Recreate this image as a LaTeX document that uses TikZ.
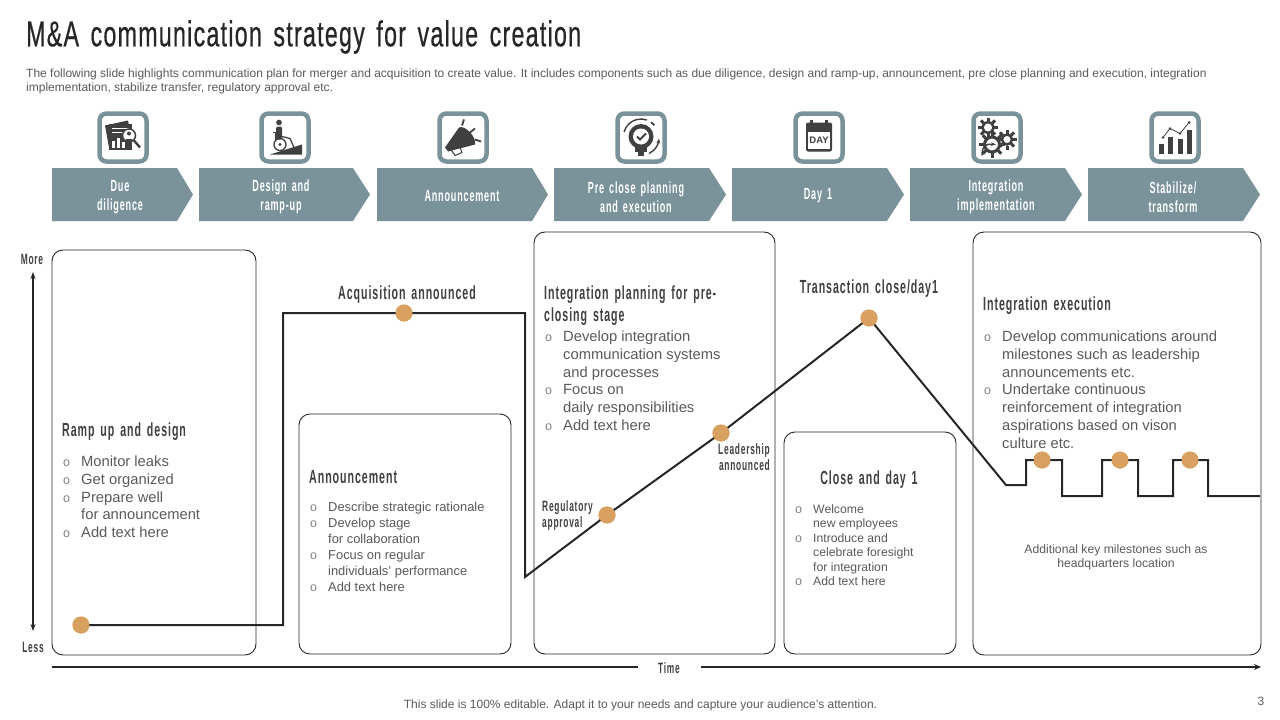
\documentclass[tikz,border=0pt]{standalone}
\usepackage{fontspec}
\setmainfont{Liberation Sans}
\newfontfamily\titlefont[FakeStretch=0.645,LetterSpace=3.5,WordSpace=1.5,FakeBold=0.5]{Liberation Sans}
\newfontfamily\headfont[FakeStretch=0.56,LetterSpace=5,WordSpace=1.5]{Liberation Sans}
\usetikzlibrary{arrows.meta, positioning}
\definecolor{steel}{HTML}{7A9299}
\definecolor{dotfill}{HTML}{D9A15F}
\definecolor{inkdark}{HTML}{262626}
\definecolor{bodygray}{HTML}{595959}
\definecolor{headgray}{HTML}{404040}
\newcommand{\bl}{\makebox[18pt][l]{\color{gray}\fontsize{12.5}{10}\selectfont o}}
\newcommand{\nb}{\hspace*{18pt}}
\tikzset{
  panel/.style={draw=inkdark, line width=0.9pt, rounded corners=11pt},
  iconframe/.style={draw=steel, line width=4.5pt, fill=white, rounded corners=7pt,
    minimum width=47pt, minimum height=48pt, inner sep=0pt},
  stagefill/.style={fill=steel},
  stagetext/.style={text=white, align=center, inner sep=0pt,
    font=\headfont\bfseries\fontsize{16.2}{19}\selectfont},
  headtext/.style={text=headgray, align=left, inner sep=0pt,
    font=\headfont\bfseries\fontsize{19}{22}\selectfont},
  tagtext/.style={text=headgray, inner sep=0pt,
    font=\headfont\bfseries\fontsize{15}{16}\selectfont},
  bigbody/.style={text=bodygray, align=left, inner sep=0pt, anchor=north west,
    font=\fontsize{14.75}{17.7}\selectfont},
  midbody/.style={text=bodygray, align=left, inner sep=0pt, anchor=north west,
    font=\fontsize{12.9}{16}\selectfont},
  smallbody/.style={text=bodygray, align=left, inner sep=0pt, anchor=north west,
    font=\fontsize{12.2}{14.4}\selectfont},
  trend/.style={draw=inkdark, line width=2pt, line join=miter},
  mark dot/.style={circle, fill=dotfill, minimum size=17pt, inner sep=0pt},
  axis line/.style={draw=inkdark, line width=1.6pt},
  glyph/.style={fill=headgray, draw=none},
  glyphline/.style={draw=headgray, line width=1.3pt},
}
\begin{document}
\begin{tikzpicture}[x=1pt, y=-1pt]
  \useasboundingbox (0,0) rectangle (1280,720);

  % Title and lead text
  \node[anchor=west, inner sep=0pt, text=inkdark, font=\titlefont\fontsize{36}{40}\selectfont] (title) at (26,37) {M\&A communication strategy for value creation};
  \node[anchor=north west, inner sep=0pt, text=bodygray, align=left, font=\fontsize{12}{14}\selectfont] (lead) at (26,68.5)
    {The following slide highlights communication plan for merger and acquisition to create value. It includes components such as due diligence, design and ramp-up, announcement, pre close planning and execution, integration\\
     implementation, stabilize transfer, regulatory approval etc.};

  % Stage chevrons
  \fill[stagefill] (52,168) -- (177,168) -- (193,194.5) -- (177,221) -- (52,221) -- cycle;
  \fill[stagefill] (199,168) -- (353,168) -- (370,194.5) -- (353,221) -- (199,221) -- cycle;
  \fill[stagefill] (377,168) -- (532,168) -- (548,194.5) -- (532,221) -- (377,221) -- cycle;
  \fill[stagefill] (554,168) -- (709,168) -- (726,194.5) -- (709,221) -- (554,221) -- cycle;
  \fill[stagefill] (732,168) -- (887,168) -- (904,194.5) -- (887,221) -- (732,221) -- cycle;
  \fill[stagefill] (910,168) -- (1065,168) -- (1082,194.5) -- (1065,221) -- (910,221) -- cycle;
  \fill[stagefill] (1088,168) -- (1243,168) -- (1260,194.5) -- (1243,221) -- (1088,221) -- cycle;
  \node[stagetext] (stDue) at (120,197) {Due\\diligence};
  \node[stagetext] (stDesign) at (281,197) {Design and\\ramp-up};
  \node[stagetext] (stAnnounce) at (462,196) {Announcement};
  \node[stagetext] (stPreclose) at (636,197) {Pre close planning\\and execution};
  \node[stagetext] (stDay) at (818,196) {Day 1};
  \node[stagetext] (stIntegrate) at (996,197) {Integration\\implementation};
  \node[stagetext] (stStable) at (1173,197) {Stabilize/\\transform};

  % Icon frames
  \node[iconframe] (icDue) at (123,137.5) {};
  \node[iconframe] (icDesign) at (285,137.5) {};
  \node[iconframe] (icAnnounce) at (463,137.5) {};
  \node[iconframe] (icPreclose) at (641,137.5) {};
  \node[iconframe] (icDay) at (819,137.5) {};
  \node[iconframe] (icIntegrate) at (997,137.5) {};
  \node[iconframe] (icStable) at (1175,137.5) {};

  % Report with magnifier
  \begin{scope}[shift={(123,137.5)}]
    \fill[glyph] (-18,-12) -- (5,-17) -- (6,-12) -- (-12,-10) -- (-11,11) -- (-14,10) -- cycle;
    \fill[glyph] (-14,-14) rectangle (9,12);
    \fill[white] (-11,-10) rectangle (6,-8.8);
    \fill[white] (-11,-6) rectangle (3,-4.8);
    \fill[white] (-11,3) rectangle (-8,10);
    \fill[white] (-6,0) rectangle (-3,10);
    \fill[white] (-1,4) rectangle (2,10);
    \filldraw[fill=white, draw=headgray, line width=1.5pt] (6,-2) circle (6.5);
    \fill[glyph] (6,-4) circle (2);
    \fill[glyph] (2.5,1.5) arc (180:360:3.5 and -2.6) -- cycle;
    \draw[headgray, line width=2.4pt] (11,3) -- (17,10);
  \end{scope}

  % Wheelchair on a ramp
  \begin{scope}[shift={(285,137.5)}]
    \fill[glyph] (-15,17) -- (17,7) -- (17,17) -- cycle;
    \fill[glyph] (-6,-15) circle (2.8);
    \fill[glyph, rounded corners=1.5pt] (-9,-11) rectangle (-3,2);
    \draw[glyphline] (-3,-1) -- (5,1) -- (9,10);
    \draw[glyphline] (-5,7) circle (6);
    \fill[glyph] (-5,7) circle (1.6);
    \draw[glyphline] (-12,-5) -- (-9,-5) -- (-9,2);
  \end{scope}

  % Megaphone
  \begin{scope}[shift={(463,137.5)}]
    \fill[glyph] (-18,10) -- (-4,-10) .. controls (2,-13) and (14,0) .. (12,7) -- (-15,14) -- cycle;
    \draw[glyphline, line width=1pt] (-12,12) -- (-8,18) -- (-1,15) -- (-3,10);
    \draw[headgray, line width=1.8pt] (1,-18) -- (-1,-12);
    \draw[headgray, line width=1.8pt] (12,-9) -- (7,-5);
    \draw[headgray, line width=1.8pt] (18,4) -- (12,2);
  \end{scope}

  % Bulb with check mark
  \begin{scope}[shift={(641,137.5)}]
    \draw[headgray, line width=1.4pt] (0,-1)+(-165:17.5) arc (-165:-70:17.5);
    \draw[headgray, line width=1.8pt] (0,-1)+(-55:17.5) arc (-55:-40:17.5);
    \draw[headgray, line width=1.4pt, -{Stealth[length=5pt]}] (8,16) .. controls (14,13) and (17,8) .. (18,1);
    \fill[glyph] (0,-1) circle (12.5);
    \fill[glyph] (-6,8) rectangle (6,14);
    \fill[glyph] (-3,14) rectangle (3,18);
    \fill[white] (0,-1) circle (8);
    \draw[headgray, line width=2pt] (-4,-1) -- (-1,2) -- (5,-4);
  \end{scope}

  % Calendar
  \begin{scope}[shift={(819,137.5)}]
    \fill[glyph, rounded corners=2pt] (-13,-15) rectangle (13,14);
    \fill[glyph] (-9,-18) rectangle (-6,-13);
    \fill[glyph] (6,-18) rectangle (9,-13);
    \fill[white] (-11,-6) rectangle (11,11);
    \node[inner sep=0pt, text=headgray, font=\bfseries\fontsize{9.5}{10}\selectfont] (dayMark) at (0,2.5) {DAY};
  \end{scope}

  % Gears
  \begin{scope}[shift={(997,137.5)}]
    \foreach \a in {0,45,...,315} {
      \fill[glyph, rotate around={\a:(-9,-10)}] (-10.5,-20) rectangle (-7.5,-15);
      \fill[glyph, rotate around={\a:(-5,7)}] (-6.5,-6) rectangle (-3.5,0);
      \fill[glyph, rotate around={\a:(10,2)}] (8.5,-8) rectangle (11.5,-4);
    }
    \filldraw[fill=white, draw=headgray, line width=2.5pt] (-9,-10) circle (5.5);
    \filldraw[fill=white, draw=headgray, line width=2.5pt] (10,2) circle (5);
    \filldraw[fill=white, draw=headgray, line width=3pt] (-5,7) circle (7.5);
    \draw[headgray, line width=1.4pt, -{Stealth[length=5pt]}] (-15,18) .. controls (-15,8) and (-11,6) .. (-1,7);
  \end{scope}

  % Bars with rising line
  \begin{scope}[shift={(1175,137.5)}]
    \fill[glyph] (-16,6) rectangle (-11,16);
    \fill[glyph] (-7,-1) rectangle (-2,16);
    \fill[glyph] (3,1) rectangle (7.5,16);
    \fill[glyph] (12,-8) rectangle (17,16);
    \draw[headgray, line width=0.8pt] (-12,0) -- (-5,-9) -- (5,-4) -- (14,-15);
    \fill[glyph] (-12,0) circle (1.3);
    \fill[glyph] (-5,-9) circle (1.3);
    \fill[glyph] (5,-4) circle (1.3);
    \fill[glyph] (14,-15) circle (1.5);
  \end{scope}

  % Panels
  \draw[panel] (52,250) rectangle (256,655);
  \draw[panel] (299,414) rectangle (511,654);
  \draw[panel] (534,232) rectangle (775,654);
  \draw[panel] (784,432) rectangle (956,654);
  \draw[panel] (973,232) rectangle (1261,655);

  % Panel texts
  \node[headtext, anchor=west] (headRamp) at (62,432) {Ramp up and design};
  \node[bigbody] (bodyRamp) at (63,456) {\bl Monitor leaks\\\bl Get organized\\\bl Prepare well\\\nb for announcement\\\bl Add text here};
  \node[headtext, anchor=west] (headNews) at (309,477) {Announcement};
  \node[midbody] (bodyNews) at (310,502) {\bl Describe strategic rationale\\\bl Develop stage\\\nb for collaboration\\\bl Focus on regular\\\nb individuals' performance\\\bl Add text here};
  \node[headtext, anchor=north west] (headPlan) at (544,286) {Integration planning for pre-\\closing stage};
  \node[bigbody] (bodyPlan) at (545,331) {\bl Develop integration\\\nb communication systems\\\nb and processes\\\bl Focus on\\\nb daily responsibilities\\\bl Add text here};
  \node[headtext] (headClose) at (869,480) {Close and day 1};
  \node[smallbody] (bodyClose) at (795,504.5) {\bl Welcome\\\nb new employees\\\bl Introduce and\\\nb celebrate foresight\\\nb for integration\\\bl Add text here};
  \node[headtext, anchor=west] (headExec) at (983,306) {Integration execution};
  \node[bigbody] (bodyExec) at (984,331) {\bl Develop communications around\\\nb milestones such as leadership\\\nb announcements etc.\\\bl Undertake continuous\\\nb reinforcement of integration\\\nb aspirations based on vison\\\nb culture etc.};
  \node[smallbody, align=center, anchor=center] (noteMiles) at (1116,557.5) {Additional key milestones such as\\headquarters location};

  % Trend line
  \node[mark dot] (dotStart) at (81,625) {};
  \node[mark dot] (dotAcq) at (404,313) {};
  \node[mark dot] (dotReg) at (607,515) {};
  \node[mark dot] (dotLead) at (721,433) {};
  \node[mark dot] (dotClose) at (869,318) {};
  \node[mark dot] (dotExecA) at (1042,460) {};
  \node[mark dot] (dotExecB) at (1120,460) {};
  \node[mark dot] (dotExecC) at (1190,460) {};
  \coordinate (trendEnd) at (1260,496);
  \draw[trend] (dotStart.center) -| (283,313) -- (dotAcq.center) -- (525,313) -- (525,577)
    -- (dotReg.center) -- (dotLead.center) -- (dotClose.center) -- (1006,485) -- (1026,485) |- (dotExecA.center)
    -| (1062,496) -- (1102,496) |- (dotExecB.center)
    -| (1138,496) -- (1173,496) |- (dotExecC.center)
    -| (1208,496) -- (trendEnd);
  \node[mark dot] at (dotStart) {};
  \node[mark dot] at (dotAcq) {};
  \node[mark dot] at (dotReg) {};
  \node[mark dot] at (dotLead) {};
  \node[mark dot] at (dotClose) {};
  \node[mark dot] at (dotExecA) {};
  \node[mark dot] at (dotExecB) {};
  \node[mark dot] at (dotExecC) {};

  % Trend labels
  \node[headtext] (tagAcq) at (407,295) {Acquisition announced};
  \node[headtext] (tagClose) at (869,289) {Transaction close/day1};
  \node[tagtext, align=left, anchor=west] (tagReg) at (542,515.5) {Regulatory\\approval};
  \node[tagtext, align=right, anchor=east] (tagLead) at (770,457) {Leadership\\announced};

  % Axes
  \node[tagtext] (axMore) at (32,259) {More};
  \node[tagtext] (axLess) at (33,647) {Less};
  \coordinate (axTop) at (33,272);
  \coordinate (axBottom) at (33,631);
  \draw[axis line, line width=1.2pt, {Stealth[length=7pt,width=5pt]}-{Stealth[length=7pt,width=5pt]}] (axTop) -- (axBottom);
  \node[tagtext] (axTime) at (669,668) {Time};
  \coordinate (axLeft) at (52,667);
  \coordinate (axMidL) at (638,667);
  \coordinate (axMidR) at (701,667);
  \coordinate (axRight) at (1261,667);
  \draw[axis line] (axLeft) -- (axMidL);
  \draw[axis line, -{Stealth[length=7pt,width=6pt]}] (axMidR) -- (axRight);

  % Footer
  \node[inner sep=0pt, text=bodygray, font=\fontsize{12}{14}\selectfont] (footer) at (640.5,705.5) {This slide is 100\% editable. Adapt it to your needs and capture your audience's attention.};
  \node[inner sep=0pt, text=bodygray, font=\fontsize{12}{14}\selectfont] (pageNo) at (1261,701) {3};
\end{tikzpicture}
\end{document}
